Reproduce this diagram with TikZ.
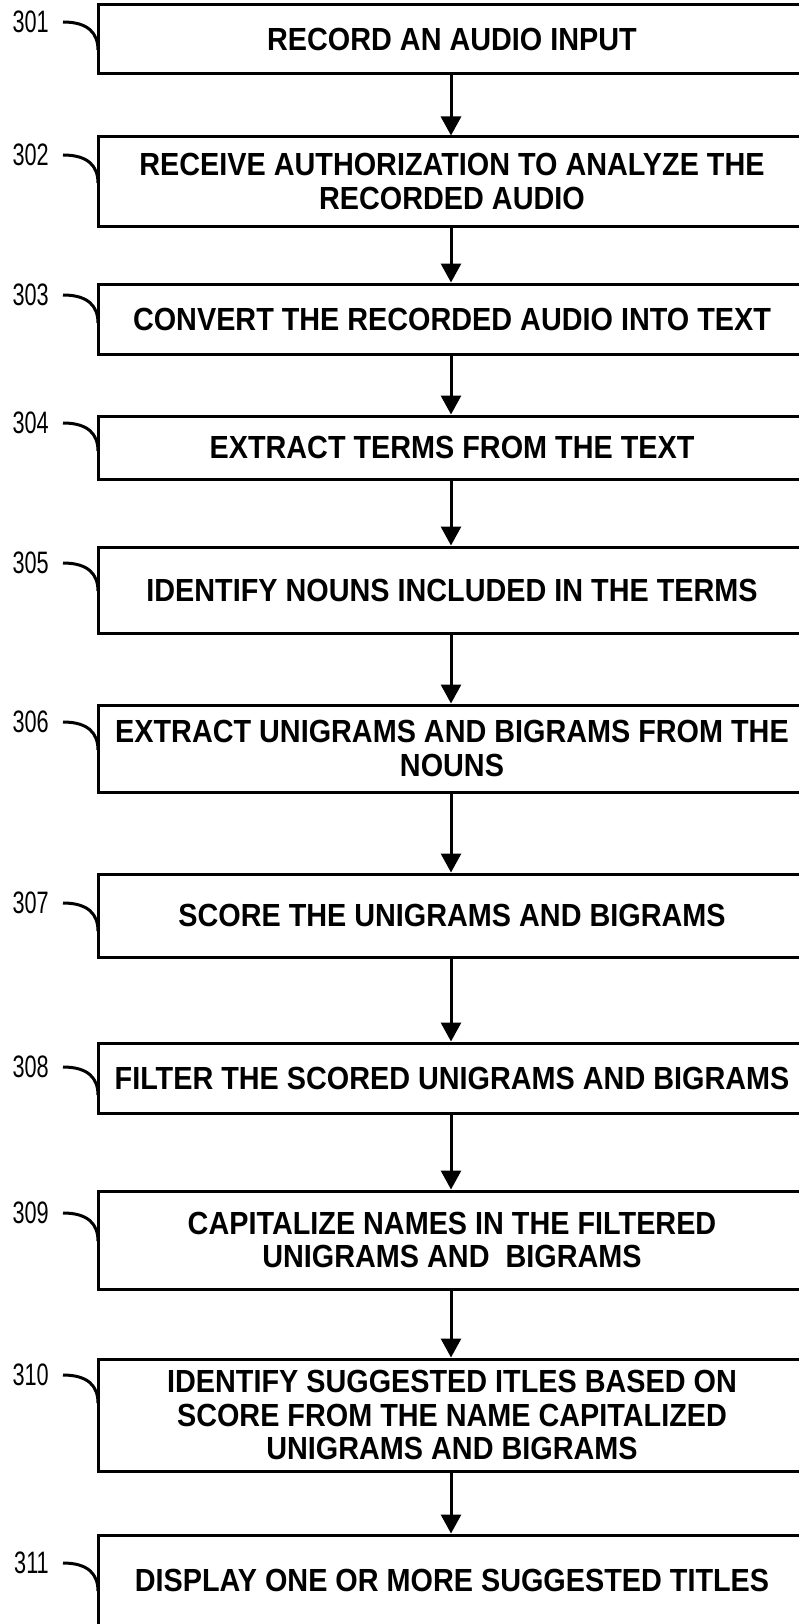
\documentclass[tikz,border=0pt]{standalone}
\usepackage{fontspec}
\setmainfont{Liberation Sans}
\newfontfamily\boxfont[FakeStretch=0.9]{Liberation Sans}
\newfontfamily\refnumfont[FakeStretch=0.7]{Liberation Sans}
\usetikzlibrary{arrows.meta,calc}
\def\hookline(#1)(#2){\draw[hook] (#1.east) .. controls ++(25,0) and ($(#2)+(0,-17)$) .. (#2);}

\tikzset{
  stepbox/.style={draw, line width=3pt, minimum width=708pt, inner sep=0pt, align=center,
    font=\boxfont\bfseries\fontsize{32}{33.5}\selectfont},
  refnum/.style={anchor=east, inner xsep=14pt, inner ysep=0pt,
    font=\refnumfont\fontsize{31}{32}\selectfont},
  flow/.style={line width=3pt, -{Triangle[width=20pt,length=19pt]}},
  hook/.style={line width=3pt}
}

\begin{document}
\begin{tikzpicture}[x=1pt, y=-1pt]
		%%%%% FRAME %%%%%
		\useasboundingbox (0, 0) rectangle (798, 1624);
		
		%%%%% STEPS %%%%%
		\node[stepbox, minimum height=69pt] (b1) at (452, 39.5) {RECORD AN AUDIO INPUT};
		\node[stepbox, minimum height=89pt] (b2) at (452, 181.5) {RECEIVE AUTHORIZATION TO ANALYZE THE\\RECORDED AUDIO};
		\node[stepbox, minimum height=70pt] (b3) at (452, 319) {CONVERT THE RECORDED AUDIO INTO TEXT};
		\node[stepbox, minimum height=63pt] (b4) at (452, 447.5) {EXTRACT TERMS FROM THE TEXT};
		\node[stepbox, minimum height=86pt] (b5) at (452, 590) {IDENTIFY NOUNS INCLUDED IN THE TERMS};
		\node[stepbox, minimum height=87pt] (b6) at (452, 748.5) {EXTRACT UNIGRAMS AND BIGRAMS FROM THE\\NOUNS};
		\node[stepbox, minimum height=83pt] (b7) at (452, 915.5) {SCORE THE UNIGRAMS AND BIGRAMS};
		\node[stepbox, minimum height=70pt] (b8) at (452, 1078) {FILTER THE SCORED UNIGRAMS AND BIGRAMS};
		\node[stepbox, minimum height=98pt] (b9) at (452, 1240) {CAPITALIZE NAMES IN THE FILTERED\\UNIGRAMS AND~ BIGRAMS};
		\node[stepbox, minimum height=112pt] (b10) at (452, 1415) {IDENTIFY SUGGESTED ITLES BASED ON\\SCORE FROM THE NAME CAPITALIZED\\UNIGRAMS AND BIGRAMS};
		\node[stepbox, minimum height=91pt] (b11) at (452, 1580.5) {DISPLAY ONE OR MORE SUGGESTED TITLES};
		
		%%%%% ARROWS %%%%%
		\draw[flow] (b1.south -| 451, 0) -- (b2.north -| 451, 0);
		\draw[flow] (b2.south -| 451, 0) -- (b3.north -| 451, 0);
		\draw[flow] (b3.south -| 451, 0) -- (b4.north -| 451, 0);
		\draw[flow] (b4.south -| 451, 0) -- (b5.north -| 451, 0);
		\draw[flow] (b5.south -| 451, 0) -- (b6.north -| 451, 0);
		\draw[flow] (b6.south -| 451, 0) -- (b7.north -| 451, 0);
		\draw[flow] (b7.south -| 451, 0) -- (b8.north -| 451, 0);
		\draw[flow] (b8.south -| 451, 0) -- (b9.north -| 451, 0);
		\draw[flow] (b9.south -| 451, 0) -- (b10.north -| 451, 0);
		\draw[flow] (b10.south -| 451, 0) -- (b11.north -| 451, 0);
		
		%%%%% REFERENCE NUMBERS %%%%%
		\node[refnum] (r1) at (63, 22) {301};
		\node[refnum] (r2) at (63, 155) {302};
		\node[refnum] (r3) at (63, 295) {303};
		\node[refnum] (r4) at (63, 423) {304};
		\node[refnum] (r5) at (63, 563) {305};
		\node[refnum] (r6) at (63, 722) {306};
		\node[refnum] (r7) at (63, 903) {307};
		\node[refnum] (r8) at (63, 1067) {308};
		\node[refnum] (r9) at (63, 1213) {309};
		\node[refnum] (r10) at (63, 1375) {310};
		\node[refnum] (r11) at (63, 1563) {311};
		
		\coordinate (k1) at (98, 50);
		\coordinate (k2) at (98, 183);
		\coordinate (k3) at (98, 323);
		\coordinate (k4) at (98, 451);
		\coordinate (k5) at (98, 591);
		\coordinate (k6) at (98, 750);
		\coordinate (k7) at (98, 931);
		\coordinate (k8) at (98, 1095);
		\coordinate (k9) at (98, 1241);
		\coordinate (k10) at (98, 1403);
		\coordinate (k11) at (98, 1591);
		
		\hookline(r1)(k1)
		\hookline(r2)(k2)
		\hookline(r3)(k3)
		\hookline(r4)(k4)
		\hookline(r5)(k5)
		\hookline(r6)(k6)
		\hookline(r7)(k7)
		\hookline(r8)(k8)
		\hookline(r9)(k9)
		\hookline(r10)(k10)
		\hookline(r11)(k11)
		
		%%%%% END %%%%%
\end{tikzpicture}
\end{document}
